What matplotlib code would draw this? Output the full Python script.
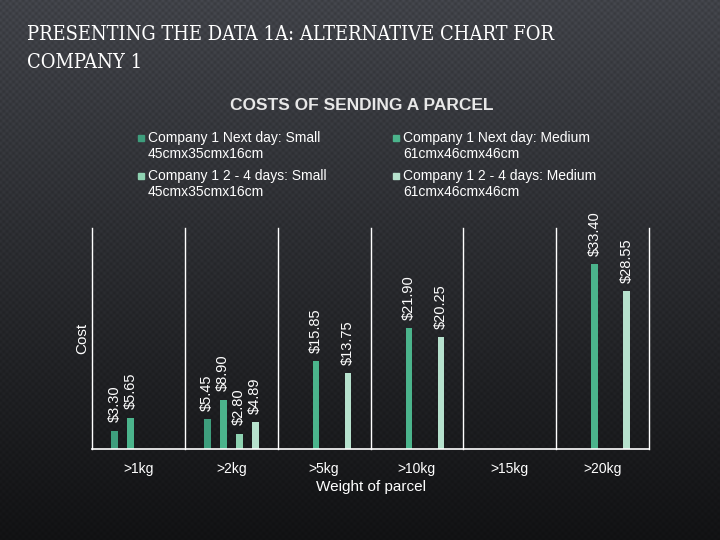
import matplotlib.pyplot as plt
import numpy as np
from matplotlib.patches import Rectangle

# data
categories = ['>1kg', '>2kg', '>5kg', '>10kg', '>15kg', '>20kg']
series_names = ['Company 1 Next day: Small\n45cmx35cmx16cm',
                'Company 1 Next day: Medium\n61cmx46cmx46cm',
                'Company 1 2 - 4 days: Small\n45cmx35cmx16cm',
                'Company 1 2 - 4 days: Medium\n61cmx46cmx46cm']
next_small = [3.30, 5.45, np.nan, np.nan, np.nan, np.nan]
next_medium = [5.65, 8.90, 15.85, 21.90, np.nan, 33.40]
days_small = [np.nan, 2.80, np.nan, np.nan, np.nan, np.nan]
days_medium = [np.nan, 4.89, 13.75, 20.25, np.nan, 28.55]
colors = ['#3e9e7d', '#4bb48c', '#8ed2b1', '#b6e1cd']

fig = plt.figure(figsize=(7.2, 5.4), dpi=100)

# background: dark gradient with dotted texture
bg = fig.add_axes([0, 0, 1, 1])
yy, xx = np.mgrid[0:540, 0:720]
grad = 0.29 - 0.21 * (yy / 539.0)
dots = 0.5 + 0.5 * np.cos(2 * np.pi * xx / 6.5) * np.cos(2 * np.pi * yy / 6.5)
val = grad * (0.82 + 0.18 * dots)
img = np.dstack([val * 0.95, val * 0.98, val * 1.07])
bg.imshow(np.clip(img, 0, 1), aspect='auto', extent=[0, 1, 0, 1])
bg.axis('off')

# slide title
for txt, ypix in [('PRESENTING THE DATA 1A: ALTERNATIVE CHART FOR', 35), ('COMPANY 1', 62)]:
    fig.text(27 / 720, 1 - ypix / 540, txt, family='DejaVu Serif', fontstretch='condensed',
             fontsize=14.4, color='white', va='center')

fig.text(362 / 720, 1 - 106 / 540, 'COSTS OF SENDING A PARCEL',
         family='Liberation Sans', fontsize=12.5, fontweight='bold', color='#e8e8e8',
         ha='center', va='center')

ax = fig.add_axes([92 / 720, 1 - 449 / 540, 557 / 720, 221 / 540])
ax.patch.set_alpha(0)
x = np.arange(len(categories))
all_series = [next_small, next_medium, days_small, days_medium]
w = 0.072
step = 0.172
for i, vals in enumerate(all_series):
    off = (i - 1.5) * step
    ax.bar(x + off, vals, width=w, color=colors[i])
    for xi, v in zip(x + off, vals):
        if np.isnan(v):
            continue
        ax.annotate('$%.2f' % v, (xi, v), xytext=(0, 6), textcoords='offset points',
                    rotation=90, ha='center', va='bottom', color='white',
                    family='Liberation Sans', fontsize=10.5)

ax.set_xlim(-0.5, 5.5)
ax.set_ylim(0, 40)
for b in np.arange(-0.5, 6, 1):
    ax.axvline(b, color='white', lw=1, clip_on=False)
for s in ['top', 'right', 'left']:
    ax.spines[s].set_visible(False)
ax.spines['bottom'].set_color('white')
ax.spines['bottom'].set_linewidth(1.2)
ax.set_yticks([])
ax.set_xticks(x)
ax.set_xticklabels(categories, color='white', family='Liberation Sans', fontsize=10)
ax.tick_params(axis='x', length=0, pad=9)
ax.set_xlabel('Weight of parcel', color='white', family='Liberation Sans',
              fontsize=11, labelpad=3)
ax.set_ylabel('Cost', color='white', family='Liberation Sans', fontsize=11, labelpad=2)

# legend
leg_pos = [(141, 138), (396, 138), (141, 176), (396, 176)]
for (px, py), name, c in zip(leg_pos, series_names, colors):
    fig.patches.append(Rectangle((px / 720 - 3 / 720, 1 - (py + 3) / 540), 6 / 720, 6 / 540,
                                 transform=fig.transFigure, color=c))
    fig.text((px + 7) / 720, 1 - (py - 7) / 540, name, family='Liberation Sans',
             fontsize=10, color='white', va='top', linespacing=1.2)

fig.savefig('out.png', dpi=100)
